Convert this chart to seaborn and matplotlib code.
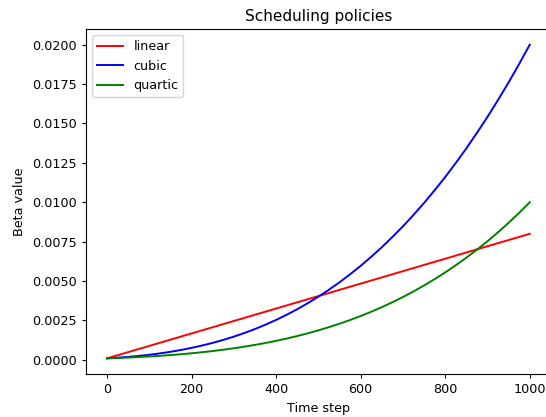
import matplotlib
matplotlib.use("Agg")
import matplotlib.pyplot as plt
import seaborn as sns
import pandas as pd

# values
linear_steps = [0, 100, 200, 300, 400, 500, 600, 700, 800, 900, 1000]
linear = [0.0001, 0.00089, 0.00168, 0.00247, 0.00326, 0.00405, 0.00484,
          0.00563, 0.00642, 0.00721, 0.008]

curve_steps = [0, 25, 50, 75, 100, 125, 150, 175, 200, 225, 250, 275, 300, 325,
               350, 375, 400, 425, 450, 475, 500, 525, 550, 575, 600, 625, 650,
               675, 700, 725, 750, 775, 800, 825, 850, 875, 900, 925, 950, 975, 1000]
cubic = [0.0001, 0.000141, 0.000192, 0.000254, 0.000327, 0.000414, 0.000515,
         0.000632, 0.000764, 0.000914, 0.001082, 0.00127, 0.001478, 0.001709,
         0.00196, 0.002238, 0.002538, 0.002866, 0.003219, 0.003603, 0.004012,
         0.004456, 0.004926, 0.005434, 0.005969, 0.006545, 0.00715, 0.007799,
         0.008477, 0.009203, 0.009959, 0.010766, 0.011605, 0.012497, 0.013422,
         0.014405, 0.01542, 0.016497, 0.017607, 0.018782, 0.02]
quartic = [0.0001, 0.000123, 0.000151, 0.000182, 0.000219, 0.00026, 0.000308,
           0.000361, 0.000421, 0.000488, 0.000563, 0.000647, 0.000739, 0.000841,
           0.000953, 0.001075, 0.00121, 0.001356, 0.001515, 0.001689, 0.001876,
           0.002079, 0.002297, 0.002533, 0.002785, 0.003057, 0.003348, 0.003659,
           0.003991, 0.004347, 0.004724, 0.005126, 0.005552, 0.006006, 0.006486,
           0.006995, 0.00753, 0.008101, 0.008701, 0.009334, 0.01]
series_names = ["linear", "cubic", "quartic"]
series_colors = ["red", "blue", "green"]

frames = [
    pd.DataFrame({"Time step": linear_steps, "Beta value": linear, "policy": "linear"}),
    pd.DataFrame({"Time step": curve_steps, "Beta value": cubic, "policy": "cubic"}),
    pd.DataFrame({"Time step": curve_steps, "Beta value": quartic, "policy": "quartic"}),
]
df = pd.concat(frames, ignore_index=True)

plt.rcParams.update(plt.rcParamsDefault)
plt.rcParams["font.size"] = 9.2
plt.rcParams["xtick.major.size"] = 3.2
plt.rcParams["ytick.major.size"] = 3.2
fig, ax = plt.subplots(figsize=(5.46, 4.17), dpi=100)
sns.lineplot(data=df, x="Time step", y="Beta value", hue="policy",
             hue_order=series_names, palette=series_colors, ax=ax, linewidth=1.4)
ax.set_title("Scheduling policies", fontsize=11)
ax.set_yticks([i * 0.0025 for i in range(9)])
ax.yaxis.set_major_formatter(matplotlib.ticker.FormatStrFormatter("%.4f"))
leg = ax.legend(loc="upper left")
leg.set_title(None)
fig.subplots_adjust(left=0.1575, right=1.009, top=0.9305, bottom=0.1031)
fig.savefig("out.png", dpi=100)
